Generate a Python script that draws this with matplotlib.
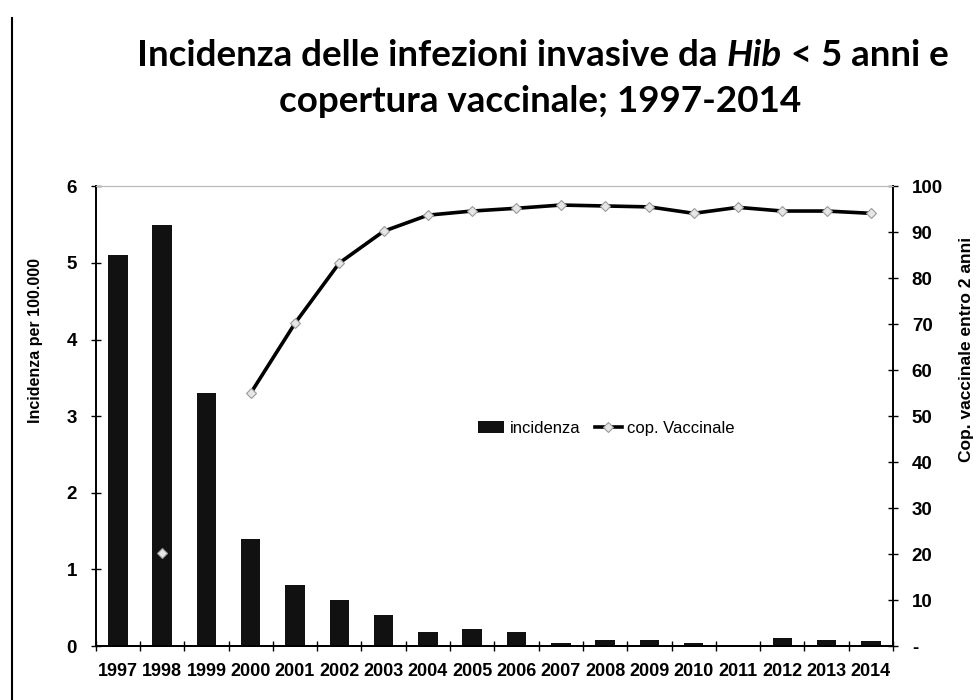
import numpy as np
from matplotlib import pyplot as plt
from matplotlib.lines import Line2D

anni = [str(a) for a in range(1997, 2015)]
incidenza = [5.1, 5.5, 3.3, 1.4, 0.8, 0.6, 0.4, 0.19, 0.22, 0.19,
             0.04, 0.08, 0.08, 0.04, 0.0, 0.11, 0.08, 0.07]
copertura = [np.nan, 20.3, np.nan, 55.0, 70.2, 83.3, 90.2, 93.7, 94.6, 95.2,
             95.9, 95.7, 95.5, 94.1, 95.4, 94.6, 94.6, 94.1]
y1_ticks = [0, 1, 2, 3, 4, 5, 6]
y2_ticks = [0, 10, 20, 30, 40, 50, 60, 70, 80, 90, 100]
y2_labels = ['-', '10', '20', '30', '40', '50', '60', '70', '80', '90', '100']

plt.rcParams['font.family'] = ['Liberation Sans', 'DejaVu Sans']

fig = plt.figure(figsize=(9.76, 7), dpi=100)
ax = fig.add_axes([0.098, 0.077, 0.817, 0.657])
ax2 = ax.twinx()

x = np.arange(len(anni))
bars = ax.bar(x, incidenza, width=0.44, color='#111111', label='incidenza', zorder=2)
line, = ax2.plot(x, copertura, color='black', lw=2.6, marker='D', ms=5,
                 mfc='#e6e6e6', mec='#9a9a9a', mew=0.8, label='cop. Vaccinale')

ax.set_xlim(-0.5, len(anni) - 0.5)
ax.set_ylim(0, 6)
ax2.set_ylim(0, 100)

ax.set_xticks(x)
ax.set_xticklabels(anni, fontsize=13, fontweight='bold')
ax.tick_params(axis='x', which='major', length=0, pad=12)
ax.set_xticks(np.arange(-0.5, len(anni)), minor=True)
ax.tick_params(axis='x', which='minor', direction='inout', length=7, width=1)

ax.set_yticks(y1_ticks)
ax.set_yticklabels([str(v) for v in y1_ticks], fontsize=13.5, fontweight='bold')
ax.tick_params(axis='y', direction='inout', length=7, width=1, pad=10)

ax2.set_yticks(y2_ticks)
ax2.set_yticklabels(y2_labels, fontsize=13.5, fontweight='bold')
ax2.tick_params(axis='y', direction='inout', length=7, width=1, pad=10)

for a in (ax, ax2):
    a.spines['top'].set_color('#bbbbbb')
    a.spines['top'].set_linestyle((0, (1, 1)))
    a.spines['left'].set_linewidth(1.2)
    a.spines['right'].set_linewidth(1.2)
    a.spines['bottom'].set_linewidth(1.4)

ax.set_ylabel('Incidenza per 100.000', fontsize=11.5, fontweight='bold')
ax.yaxis.set_label_coords(-0.066, 0.665)
ax2.set_ylabel('Cop. vaccinale entro 2 anni', fontsize=12.5, fontweight='bold')
ax2.yaxis.set_label_coords(1.083, 0.645)

ax2.legend([bars, line], ['incidenza', 'cop. Vaccinale'], loc='center',
           bbox_to_anchor=(0.64, 0.474), frameon=False, ncol=2, fontsize=12,
           handlelength=1.6, handletextpad=0.3, columnspacing=0.9)

# titolo, con "Hib" in corsivo
tfont = dict(family='Lato', fontweight='bold', fontsize=26.5)
parts = [('Incidenza delle infezioni invasive da ', 'normal'),
         ('Hib', 'italic'), (' < 5 anni e', 'normal')]
texts = [fig.text(0, 0.921, s, style=st, va='center', **tfont) for s, st in parts]
fig.canvas.draw()
r = fig.canvas.get_renderer()
widths = [t.get_window_extent(r).width for t in texts]
xpos = 0.556 * 976 - sum(widths) / 2
for t, w in zip(texts, widths):
    t.set_x(xpos / 976)
    xpos += w
fig.text(0.553, 0.855, 'copertura vaccinale; 1997-2014', ha='center', va='center', **tfont)

# bordo della pagina
fig.add_artist(Line2D([0.012, 0.012], [0.0, 0.975], color='black', lw=1.5))

fig.savefig('out.png', dpi=100)
